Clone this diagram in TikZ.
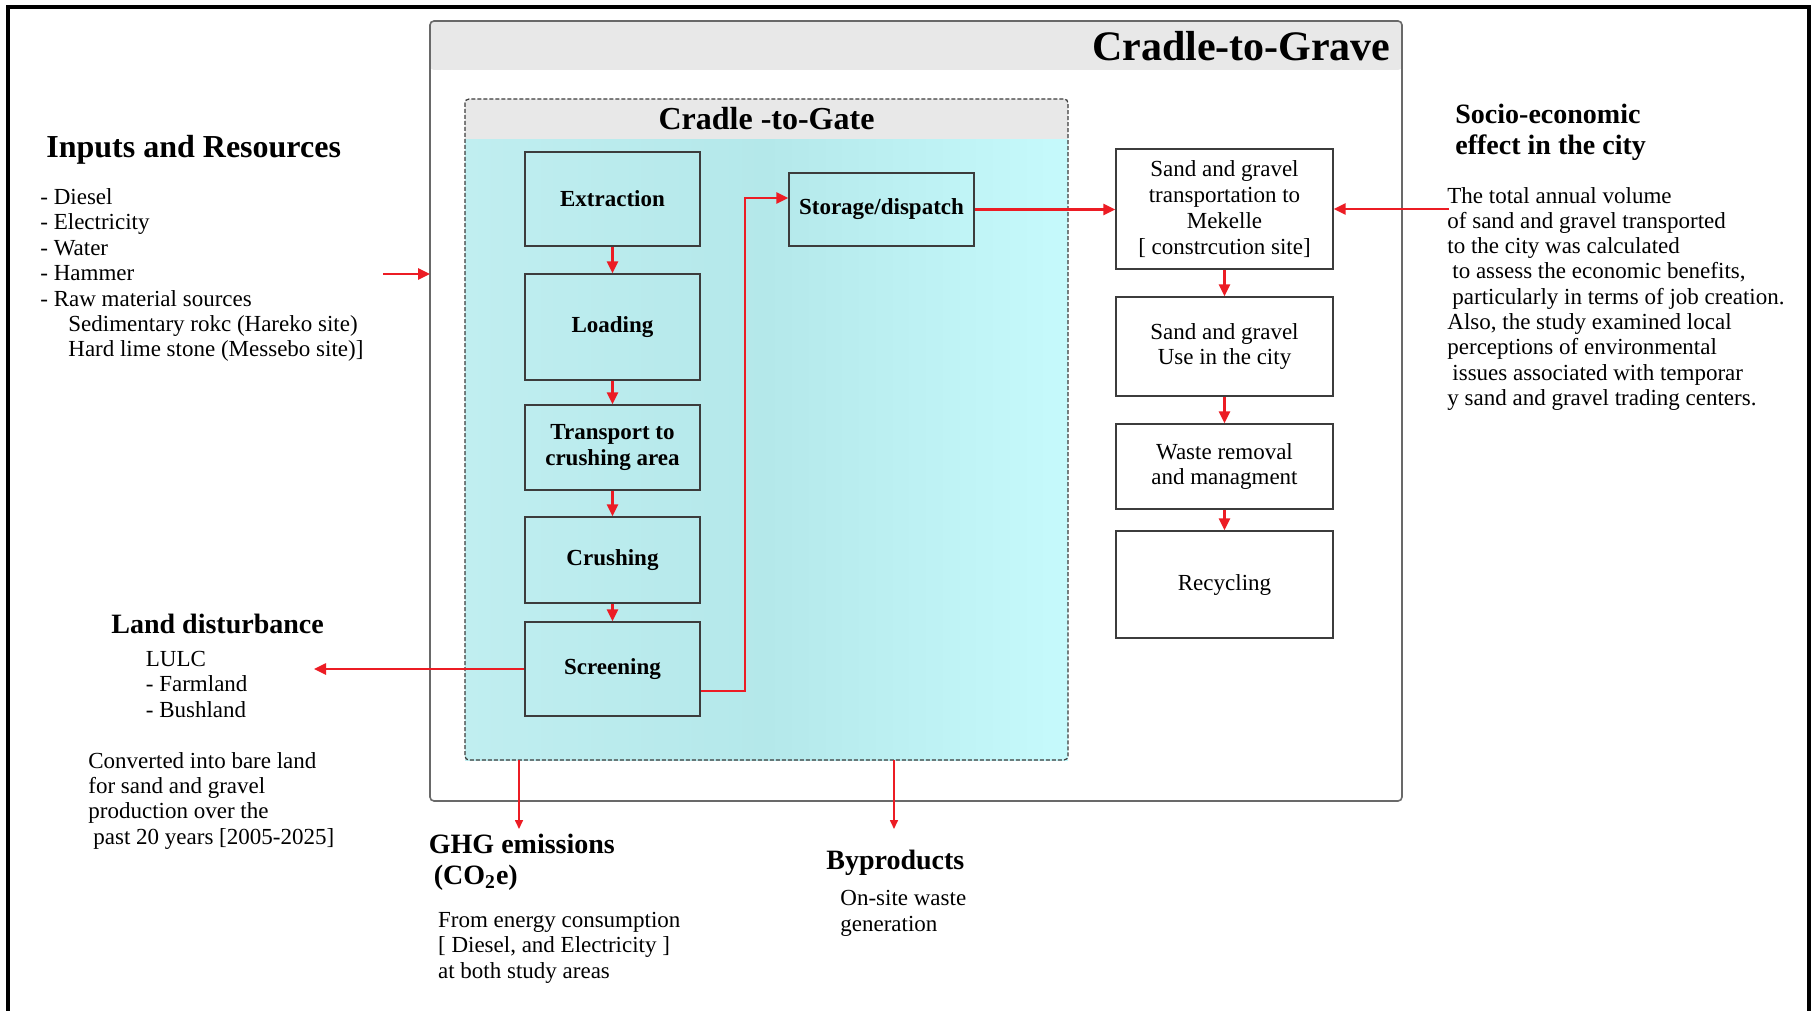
\documentclass[tikz,border=0pt]{standalone}
\usepackage{fontspec}
\setmainfont{Liberation Serif}
\usetikzlibrary{arrows.meta}

\definecolor{arrowred}{RGB}{236,28,36}
\definecolor{boxline}{RGB}{60,60,60}
\definecolor{graveline}{RGB}{105,105,105}
\definecolor{headgray}{RGB}{232,232,232}
\definecolor{gateL}{RGB}{192,238,240}
\definecolor{gateM}{RGB}{180,232,234}
\definecolor{gateR}{RGB}{198,250,252}

% multi-line text nodes are placed by the baseline of their last line
\tikzset{
  arr/.style={draw=arrowred, line width=1.25pt, -{Triangle[length=6pt,width=5.5pt]}},
  thinarr/.style={draw=arrowred, line width=0.8pt, -{Triangle[length=4.5pt,width=4pt]}},
  stepbox/.style={draw=boxline, line width=0.6pt, minimum width=87.5pt, align=center,
    inner sep=0pt, font=\bfseries\fontsize{11.5}{12.7}\selectfont},
  citybox/.style={draw=boxline, fill=white, line width=0.6pt, minimum width=108.5pt,
    align=center, inner sep=0pt, font=\fontsize{11.5}{12.9}\selectfont},
  body/.style={align=left, anchor=base west, inner sep=0pt, font=\fontsize{11.5}{12.7}\selectfont},
  heading/.style={align=left, anchor=base west, inner sep=0pt, font=\bfseries\fontsize{14}{15.5}\selectfont},
}

\begin{document}
\begin{tikzpicture}[x=0.5pt,y=-0.5pt]
\useasboundingbox (0,0) rectangle (1811,1011);
\fill[white] (0,0) rectangle (1811,1011);

% page frame, open at the bottom
\draw[line width=2pt, black] (8,1040) -- (8,7) -- (1809,7) -- (1809,1040);

% Cradle-to-Grave frame
\fill[headgray, rounded corners=2pt] (430,21) rectangle (1402,70);
\draw[graveline, line width=0.8pt, rounded corners=2pt] (430,21) rectangle (1402,801);
\coordinate (graveW) at (430,274);
\node[anchor=base east, inner sep=0pt, font=\bfseries\fontsize{21}{24}\selectfont]
  (gravetitle) at (1391,61) {Cradle-to-Grave};

% Cradle-to-Gate frame
\shade[left color=gateL, right color=gateR, middle color=gateM] (465,139) rectangle (1068,760);
\fill[headgray] (465,99) rectangle (1068,139);
\draw[boxline, line width=0.6pt, dash pattern=on 2pt off 1pt, rounded corners=2pt]
  (465,99) rectangle (1068,760);
\node[anchor=base, inner sep=0pt, font=\bfseries\fontsize{16}{19}\selectfont]
  (gatetitle) at (766.5,129.5) {Cradle -to-Gate};

% production steps
\node[stepbox, minimum height=47pt]   (extraction) at (612.5,199)   {Extraction};
\node[stepbox, minimum height=53pt]   (loading)    at (612.5,327)   {Loading};
\node[stepbox, minimum height=42.5pt] (transport)  at (612.5,447.5) {Transport to\\crushing area};
\node[stepbox, minimum height=43pt]   (crushing)   at (612.5,560)   {Crushing};
\node[stepbox, minimum height=47pt]   (screening)  at (612.5,669)   {Screening};
\node[stepbox, minimum width=92.5pt, minimum height=36.5pt] (storage) at (881.5,209.5) {Storage/dispatch};

% city-side steps
\node[citybox, minimum height=60pt]   (cityA) at (1224.5,209)   {Sand and gravel\\transportation to\\Mekelle\\{[} constrcution site]};
\node[citybox, minimum height=49.5pt] (cityB) at (1224.5,346.5) {Sand and gravel\\Use in the city};
\node[citybox, minimum height=42.5pt] (cityC) at (1224.5,466.5) {Waste removal\\and managment};
\node[citybox, minimum height=53.5pt] (cityD) at (1224.5,584.5) {Recycling};

% flow arrows
\draw[arr] (extraction) -- (loading);
\draw[arr] (loading) -- (transport);
\draw[arr] (transport) -- (crushing);
\draw[arr] (crushing) -- (screening);
\coordinate (route) at (745,198);
\draw[arr] ([yshift=-11pt]screening.east) -| (route) -- ([yshift=5.75pt]storage.west);
\draw[arr] (storage.east) -- (cityA.west |- storage.east);
\draw[arr] (cityA) -- (cityB);
\draw[arr] (cityB) -- (cityC);
\draw[arr] (cityC) -- (cityD);

% inputs
\node[anchor=base west, inner sep=0pt, font=\bfseries\fontsize{16}{19}\selectfont]
  (inputshead) at (46,158) {Inputs and Resources};
\node[body] (inputs) at (40,356.9) {- Diesel\\- Electricity\\- Water\\- Hammer\\- Raw material sources\\
  \hspace*{14pt}Sedimentary rokc (Hareko site)\\\hspace*{14pt}Hard lime stone (Messebo site)]};
\coordinate (inputsend) at (383,274);
\draw[arr] (inputsend) -- (graveW);

% socio-economic effect
\node[heading] (sociohead) at (1455,154.5) {Socio-economic\\effect in the city};
\node[body, font=\fontsize{11.5}{12.65}\selectfont] (socio) at (1447,405.4) {The total annual volume\\
  of sand and gravel transported\\to the city was calculated\\
  \hspace*{2.5pt}to assess the economic benefits,\\
  \hspace*{2.5pt}particularly in terms of job creation.\\
  Also, the study examined local\\perceptions of environmental\\
  \hspace*{2.5pt}issues associated with temporar\\y sand and gravel trading centers.};
\coordinate (sociostart) at (1449,209);
\draw[arr] (sociostart) -- (cityA.east);

% land disturbance
\node[heading] (landhead) at (111,633) {Land disturbance};
\node[body] (lulc) at (145.5,717.3) {LULC\\- Farmland\\- Bushland};
\node[body] (converted) at (88,844.2) {Converted into bare land\\for sand and gravel\\
  production over the\\\hspace*{2.5pt}past 20 years [2005-2025]};
\coordinate (landend) at (314,669);
\draw[arr] (screening.west) -- (landend);

% emissions
\node[heading] (ghghead) at (428.5,884.6) {GHG emissions\\\hspace*{2.5pt}(CO\textsubscript{2}e)};
\node[body] (ghg) at (437.7,978.3) {From energy consumption\\{[} Diesel, and Electricity ]\\at both study areas};
\coordinate (ghgtip) at (519,829);
\draw[thinarr] (ghgtip |- 0,760) -- (ghgtip);

% byproducts
\node[heading] (byhead) at (826,869.6) {Byproducts};
\node[body] (by) at (840,931) {On-site waste\\generation};
\coordinate (bytip) at (894,829);
\draw[thinarr] (bytip |- 0,760) -- (bytip);
\end{tikzpicture}
\end{document}
